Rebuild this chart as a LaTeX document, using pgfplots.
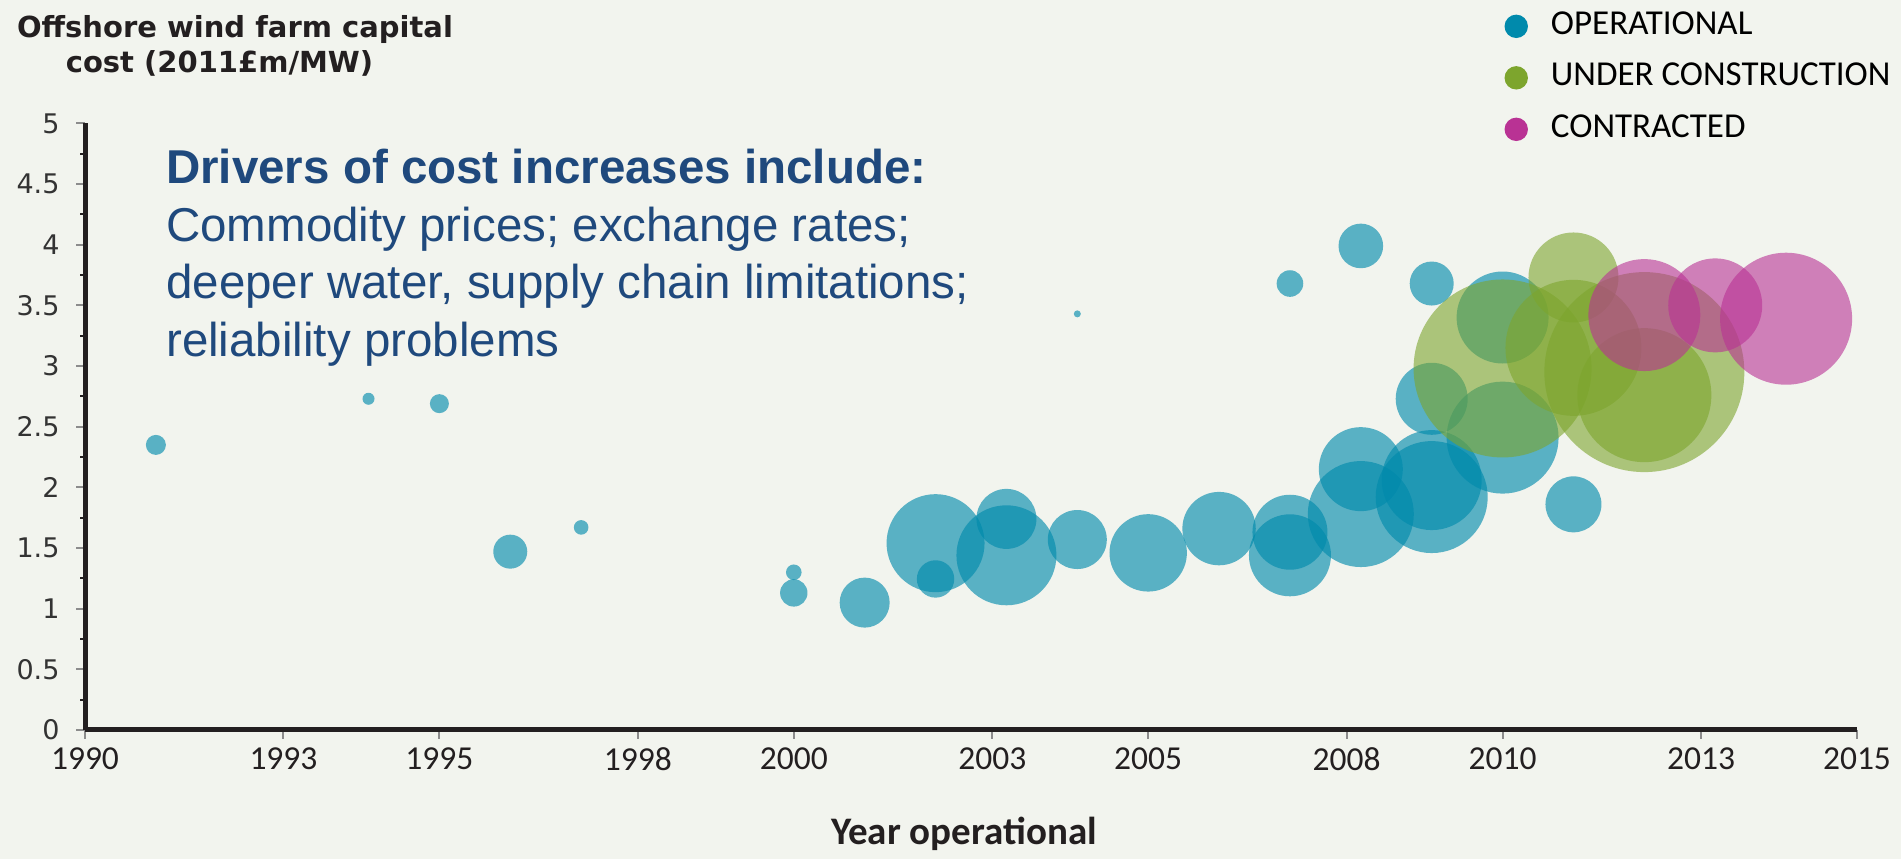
\documentclass[border=0pt]{standalone}
\usepackage{pgfplots}
\usepackage{pgfplotstable}
\pgfplotsset{compat=1.18}
\usepackage{fontspec}
\setmainfont{Carlito}
\newfontfamily\dejavu{DejaVu Sans}
\newfontfamily\arialf{Liberation Sans}
\definecolor{bg}{RGB}{242,244,238}
\definecolor{opcol}{RGB}{0,138,172}
\definecolor{uccol}{RGB}{125,165,45}
\definecolor{cocol}{RGB}{185,50,148}
\definecolor{txtblue}{RGB}{31,73,125}
\definecolor{axcol}{RGB}{35,31,32}

\pgfplotstableread{
x y r
1991 2.35 10
1994 2.73 6
1995 2.69 9.5
1996 1.47 17
1997 1.67 7.3
2000 1.30 7.8
2000 1.13 13.7
2001 1.05 25
2002 1.54 49
2002 1.245 18.7
2003 1.74 30
2003 1.44 50
2004 1.57 29.5
2004 3.43 3.5
2005 1.46 38.7
2006 1.66 36.7
2007 3.68 13.3
2007 1.63 37.5
2007 1.44 41
2008 3.99 22.3
2008 2.15 42
2008 1.78 53
2009 3.68 22
2009 2.73 36
2009 2.06 50
2009 1.92 56
2010 3.40 46
2010 2.41 56
2011 1.86 28
}\opdata

\pgfplotstableread{
x y r
2010 2.98 89
2011 3.73 45
2011 3.15 68
2012 2.95 100
2012 2.76 67
}\ucdata

\pgfplotstableread{
x y r
2012 3.42 56
2013 3.50 47
2014 3.39 66
}\codata

\pgfplotsset{bubble/.style={scatter, only marks, mark=*, point meta=y, forget plot,
  scatter/use mapped color={draw=#1, draw opacity=0, fill=#1},
  visualization depends on={\thisrow{r} \as \perpointmarksize},
  scatter/@pre marker code/.append style={/tikz/mark size=\perpointmarksize}}}

\begin{document}
\begin{tikzpicture}[x=1pt,y=1pt]
\fill[bg] (0,0) rectangle (1901,859);
\begin{axis}[
  at={(85pt,129pt)}, anchor=south west,
  scale only axis, width=1772pt, height=606.6pt,
  xmin=1990, xmax=2015, ymin=0, ymax=5,
  clip=false,
  axis x line*=bottom, axis y line*=left,
  axis line style={-, line width=5pt, color=axcol},
  xtick={1990,1992.8,1995,1997.8,2000,2002.8,2005,2007.8,2010,2012.8,2015},
  xticklabels={1990,1993,1995,1998,2000,2003,2005,2008,2010,2013,2015},
  ytick={0,0.5,1,1.5,2,2.5,3,3.5,4,4.5,5},
  yticklabels={0,0.5,1,1.5,2,2.5,3,3.5,4,4.5,5},
  minor y tick num=1,
  xtick pos=bottom, ytick pos=left,
  tick align=outside,
  major tick length=9pt, minor tick length=5pt,
  major tick style={line width=2pt, color=black!45},
  minor tick style={line width=2pt, color=axcol},
  x tick label style={font=\fontsize{33.5}{40}\selectfont, text=axcol, yshift=-5pt},
  y tick label style={font=\dejavu\fontsize{27}{32}\selectfont, text=black!80, xshift=-13pt},
  legend style={at={(0.7993,1.19)}, anchor=north west, draw=none, fill=none,
    font=\fontsize{35}{40}\selectfont, row sep=23.5pt, column sep=23pt,
    nodes={inner sep=0pt, text height=24pt, text depth=4pt}},
  legend cell align=left,
  legend image code/.code={\fill[#1] (0pt,-2pt) circle (11.7pt);},
]
\addplot[bubble=opcol, fill opacity=0.63] table[x=x,y=y] {\opdata};
\addplot[bubble=uccol, fill opacity=0.6] table[x=x,y=y] {\ucdata};
\addplot[bubble=cocol, fill opacity=0.6] table[x=x,y=y] {\codata};
\addlegendimage{fill=opcol, draw=none}
\addlegendentry{OPERATIONAL}
\addlegendimage{fill=uccol, draw=none}
\addlegendentry{UNDER CONSTRUCTION}
\addlegendimage{fill=cocol, draw=none}
\addlegendentry{CONTRACTED}
\end{axis}
% titles and annotation
\node[anchor=base, font=\dejavu\bfseries\fontsize{29}{34}\selectfont, text=axcol] at (235,821.2) {Offshore wind farm capital};
\node[anchor=base, font=\dejavu\bfseries\fontsize{29}{34}\selectfont, text=axcol] at (219.5,786.4) {cost (2011£m/MW)};
\node[anchor=base west, inner sep=0pt, font=\arialf\bfseries\fontsize{47.5}{56}\selectfont, text=txtblue] at (166,675) {Drivers of cost increases include:};
\node[anchor=base west, inner sep=0pt, font=\arialf\fontsize{47.5}{56}\selectfont, text=txtblue] at (166,617) {Commodity prices; exchange rates;};
\node[anchor=base west, inner sep=0pt, font=\arialf\fontsize{47.5}{56}\selectfont, text=txtblue] at (166,560) {deeper water, supply chain limitations;};
\node[anchor=base west, inner sep=0pt, font=\arialf\fontsize{47.5}{56}\selectfont, text=txtblue] at (166,502) {reliability problems};
\node[anchor=base, font=\bfseries\fontsize{39}{44}\selectfont, text=axcol] at (964,14) {Year operational};
\pgfresetboundingbox
\useasboundingbox (0,0) rectangle (1901,859);
\end{tikzpicture}
\end{document}
